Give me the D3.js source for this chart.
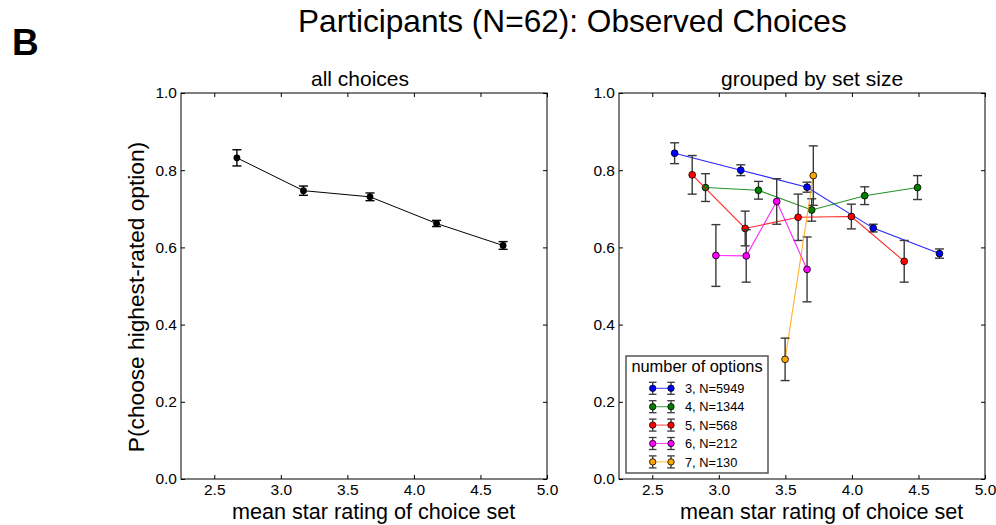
<!DOCTYPE html>
<html>
<head>
<meta charset="utf-8">
<script src="https://cdn.jsdelivr.net/npm/d3@7"></script>
<style>
  html, body { margin: 0; padding: 0; background: #fff; }
  svg { display: block; font-family: "Liberation Sans", Arial, Helvetica, sans-serif; }
</style>
</head>
<body>
<svg id="chart" width="996" height="525"></svg>
<script>
// ---------- data ----------
const xTicks = [2.5, 3.0, 3.5, 4.0, 4.5, 5.0];
const yTicks = [0.0, 0.2, 0.4, 0.6, 0.8, 1.0];

// left panel: all choices
const allX   = [2.67, 3.17, 3.67, 4.17, 4.67];
const allY   = [0.832, 0.747, 0.731, 0.662, 0.605];
const allErr = [0.021, 0.012, 0.010, 0.008, 0.010];

// right panel: grouped by set size
const seriesNames  = ["3, N=5949", "4, N=1344", "5, N=568", "6, N=212", "7, N=130"];
const seriesColors = ["#0000ff", "#008000", "#ff0000", "#ff00ff", "#ffa500"];
const s3X = [2.668, 3.165, 3.663, 4.160, 4.658];
const s3Y = [0.844, 0.800, 0.756, 0.650, 0.584];
const s3E = [0.027, 0.014, 0.013, 0.010, 0.012];
const s4X = [2.900, 3.298, 3.698, 4.096, 4.493];
const s4Y = [0.755, 0.748, 0.697, 0.734, 0.755];
const s4E = [0.036, 0.023, 0.029, 0.023, 0.031];
const s5X = [2.800, 3.198, 3.596, 3.996, 4.393];
const s5Y = [0.788, 0.649, 0.678, 0.680, 0.564];
const s5E = [0.050, 0.045, 0.060, 0.032, 0.054];
const s6X = [2.978, 3.206, 3.435, 3.663];
const s6Y = [0.579, 0.578, 0.719, 0.543];
const s6E = [0.080, 0.068, 0.059, 0.084];
const s7X = [3.498, 3.710];
const s7Y = [0.310, 0.786];
const s7E = [0.055, 0.077];

const groupX = [s3X, s4X, s5X, s6X, s7X];
const groupY = [s3Y, s4Y, s5Y, s6Y, s7Y];
const groupE = [s3E, s4E, s5E, s6E, s7E];

// ---------- layout ----------
const svg = d3.select("#chart");
const plotTop = 93, plotBottom = 479;
const panels = [
  { left: 181, right: 547, title: "all choices", titleX: 311 },
  { left: 619, right: 985, title: "grouped by set size", titleX: 721 }
];
const xLabelX = [232, 680];

const y = d3.scaleLinear().domain([0, 1]).range([plotBottom, plotTop]);

svg.append("text").attr("x", 12).attr("y", 55)
  .attr("font-size", 37).attr("font-weight", "bold").text("B");
svg.append("text").attr("x", 298).attr("y", 32)
  .attr("font-size", 31.6).text("Participants (N=62): Observed Choices");

function drawPanel(p, i) {
  const x = d3.scaleLinear().domain([2.25, 5.0]).range([p.left, p.right]);
  const g = svg.append("g");
  const fmt = d3.format(".1f");
  g.append("g").attr("transform", `translate(0,${plotBottom})`)
    .call(d3.axisBottom(x).tickValues(xTicks).tickFormat(fmt).tickSizeInner(-4).tickSizeOuter(0).tickPadding(4.5));
  g.append("g").attr("transform", `translate(0,${plotTop})`)
    .call(d3.axisTop(x).tickValues(xTicks).tickFormat("").tickSizeInner(-4).tickSizeOuter(0));
  g.append("g").attr("transform", `translate(${p.left},0)`)
    .call(d3.axisLeft(y).tickValues(yTicks).tickFormat(fmt).tickSizeInner(-4).tickSizeOuter(0).tickPadding(4));
  g.append("g").attr("transform", `translate(${p.right},0)`)
    .call(d3.axisRight(y).tickValues(yTicks).tickFormat("").tickSizeInner(-4).tickSizeOuter(0));
  g.selectAll(".domain").remove();
  g.selectAll(".tick line").attr("stroke", "#000").attr("stroke-width", 1);
  g.selectAll(".tick text").attr("font-size", 15.5).attr("fill", "#000")
    .attr("font-family", "Liberation Sans, Arial, sans-serif");
  g.append("rect").attr("x", p.left).attr("y", plotTop)
    .attr("width", p.right - p.left).attr("height", plotBottom - plotTop)
    .attr("fill", "none").attr("stroke", "#000").attr("stroke-width", 1);
  svg.append("text").attr("x", p.titleX).attr("y", 86).attr("font-size", 21).text(p.title);
  svg.append("text").attr("x", xLabelX[i]).attr("y", 518.5).attr("font-size", 21.6)
    .text("mean star rating of choice set");
  return x;
}

const xL = drawPanel(panels[0], 0);
const xR = drawPanel(panels[1], 1);

svg.append("text")
  .attr("transform", "translate(144,297) rotate(-90)")
  .attr("text-anchor", "middle").attr("font-size", 22.7)
  .text("P(choose highest-rated option)");

function errorBars(g, xs, ys, es, xScale, color, cap) {
  xs.forEach((xv, k) => {
    const cx = xScale(xv), y1 = y(ys[k] + es[k]), y2 = y(ys[k] - es[k]);
    g.append("line").attr("x1", cx).attr("x2", cx).attr("y1", y1).attr("y2", y2)
      .attr("stroke", color).attr("stroke-width", 1.4);
    [y1, y2].forEach(yy => g.append("line").attr("x1", cx - cap).attr("x2", cx + cap)
      .attr("y1", yy).attr("y2", yy).attr("stroke", color).attr("stroke-width", 1.4));
  });
}

// left panel marks
const gL = svg.append("g");
const lineGen = (xs, ys, xScale) => d3.line()(xs.map((xv, k) => [xScale(xv), y(ys[k])]));
gL.append("path").attr("d", lineGen(allX, allY, xL)).attr("fill", "none")
  .attr("stroke", "#000").attr("stroke-width", 1);
errorBars(gL, allX, allY, allErr, xL, "#000", 4.5);
gL.selectAll("circle.pt").data(allX).enter().append("circle")
  .attr("cx", d => xL(d)).attr("cy", (d, k) => y(allY[k])).attr("r", 3.4).attr("fill", "#000");

// right panel marks
const gR = svg.append("g");
groupX.forEach((xs, s) => {
  const gs = gR.append("g");
  gs.append("path").attr("d", lineGen(xs, groupY[s], xR)).attr("fill", "none")
    .attr("stroke", seriesColors[s]).attr("stroke-width", 1.1).attr("stroke-opacity", 0.85);
  errorBars(gs, xs, groupY[s], groupE[s], xR, "#3a3a3a", 4.5);
  gs.selectAll("circle").data(xs).enter().append("circle")
    .attr("cx", d => xR(d)).attr("cy", (d, k) => y(groupY[s][k])).attr("r", 3.4)
    .attr("fill", seriesColors[s]).attr("stroke", "#000").attr("stroke-width", 0.8);
});

// legend
const leg = svg.append("g");
leg.append("rect").attr("x", 626).attr("y", 356).attr("width", 142).attr("height", 117)
  .attr("fill", "#fff").attr("stroke", "#555").attr("stroke-width", 1.5);
leg.append("text").attr("x", 697).attr("y", 372).attr("text-anchor", "middle")
  .attr("font-size", 16.4).text("number of options");
seriesNames.forEach((name, s) => {
  const cy = 388.3 + s * 18.4;
  const x1 = 652.7, x2 = 671;
  leg.append("line").attr("x1", x1).attr("x2", x2).attr("y1", cy).attr("y2", cy)
    .attr("stroke", seriesColors[s]).attr("stroke-width", 1.1).attr("stroke-opacity", 0.7);
  [x1, x2].forEach(cx => {
    leg.append("line").attr("x1", cx).attr("x2", cx).attr("y1", cy - 6).attr("y2", cy + 6)
      .attr("stroke", "#3a3a3a").attr("stroke-width", 1.3);
    [cy - 6, cy + 6].forEach(yy => leg.append("line").attr("x1", cx - 3.8).attr("x2", cx + 3.8)
      .attr("y1", yy).attr("y2", yy).attr("stroke", "#3a3a3a").attr("stroke-width", 1.3));
    leg.append("circle").attr("cx", cx).attr("cy", cy).attr("r", 3.2)
      .attr("fill", seriesColors[s]).attr("stroke", "#000").attr("stroke-width", 0.8);
  });
  leg.append("text").attr("x", 685).attr("y", cy + 4.6).attr("font-size", 12.8).text(name);
});
</script>
</body>
</html>
